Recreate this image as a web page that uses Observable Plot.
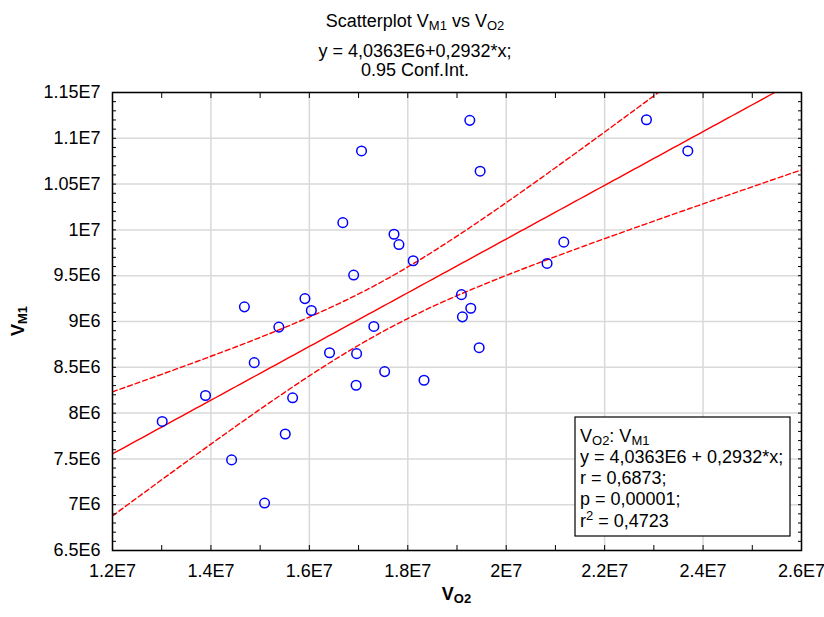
<!DOCTYPE html>
<html><head><meta charset="utf-8">
<script src="https://cdn.jsdelivr.net/npm/d3@7"></script>
<script src="https://cdn.jsdelivr.net/npm/@observablehq/plot@0.6"></script>
<style>
body{margin:0;background:#fff;}
svg{font-family:"Liberation Sans",Arial,sans-serif;}
</style>
</head><body><div id="chart"></div>
<script>
const vO2 = [13.01e6,13.89e6,14.42e6,14.68e6,14.88e6,15.09e6,15.38e6,15.51e6,15.66e6,15.91e6,
             16.04e6,16.41e6,16.68e6,16.90e6,16.96e6,16.95e6,17.06e6,17.31e6,17.53e6,17.72e6,
             17.82e6,18.11e6,18.33e6,19.09e6,19.11e6,19.28e6,19.26e6,19.45e6,19.47e6,20.83e6,
             21.17e6,22.85e6,23.69e6];
const vM1 = [7.909e6,8.192e6,7.489e6,9.160e6,8.551e6,7.018e6,8.939e6,7.772e6,8.167e6,9.250e6,
             9.120e6,8.659e6,10.079e6,9.507e6,8.649e6,8.304e6,10.862e6,8.946e6,8.453e6,9.953e6,
             9.840e6,9.663e6,8.359e6,9.293e6,9.051e6,9.145e6,11.196e6,8.714e6,10.641e6,9.634e6,
             9.866e6,11.203e6,10.862e6];
// Regression coefficients (from the chart's title)
const coef = [4.0363e6, 0.2932]; // intercept, slope
const tCrit = [2.0395];          // t(0.975, n-2=31)
// Axis ticks and labels
const xTicks = [12e6,14e6,16e6,18e6,20e6,22e6,24e6,26e6];
const xTickLabels = ["1.2E7","1.4E7","1.6E7","1.8E7","2E7","2.2E7","2.4E7","2.6E7"];
const yTicks = [6.5e6,7e6,7.5e6,8e6,8.5e6,9e6,9.5e6,10e6,10.5e6,11e6,11.5e6];
const yTickLabels = ["6.5E6","7E6","7.5E6","8E6","8.5E6","9E6","9.5E6","1E7","1.05E7","1.1E7","1.15E7"];
const xMinor = d3.range(12e6, 26e6 + 1, 1e6);
const yMinor = d3.range(6.5e6, 11.5e6 + 1, 1e5);

const points = vO2.map((x, i) => ({x, y: vM1[i]}));
const [a, b] = coef;
const n = points.length;
const xbar = d3.mean(vO2);
const sxx = d3.sum(vO2, x => (x - xbar) ** 2);
const sse = d3.sum(points, p => (p.y - (a + b * p.x)) ** 2);
const s = Math.sqrt(sse / (n - 2));
const xs = d3.range(0, 141).map(i => xTicks[0] + (xTicks[xTicks.length-1] - xTicks[0]) * i / 140);
const fit = xs.map(x => {
  const yh = a + b * x;
  const h = tCrit[0] * s * Math.sqrt(1 / n + (x - xbar) ** 2 / sxx);
  return {x, y: yh, lo: yh - h, hi: yh + h};
});

const gridStyle = {stroke: "#d9d9d9", strokeOpacity: 1, strokeWidth: 1.5};
const fs = 18;
const chart = Plot.plot({
  width: 824, height: 617,
  marginLeft: 112, marginRight: 23, marginTop: 92, marginBottom: 67,
  style: {fontFamily: '"Liberation Sans", Arial, sans-serif', background: "#fff", color: "#000"},
  x: {domain: [xTicks[0], xTicks[xTicks.length-1]], label: null},
  y: {domain: [yTicks[0], yTicks[yTicks.length-1]], label: null},
  marks: [
    Plot.gridX(xTicks, gridStyle),
    Plot.gridY(yTicks, gridStyle),
    Plot.line(fit, {x: "x", y: "hi", stroke: "#ff0000", strokeWidth: 1.4, strokeDasharray: "5,3", clip: true}),
    Plot.line(fit, {x: "x", y: "lo", stroke: "#ff0000", strokeWidth: 1.4, strokeDasharray: "5,3", clip: true}),
    Plot.line(fit, {x: "x", y: "y", stroke: "#ff0000", strokeWidth: 1.4, clip: true}),
    Plot.dot(points, {x: "x", y: "y", r: 4.8, stroke: "#0000ff", strokeWidth: 1.5, fill: "none"}),
    Plot.axisX(xTicks, {anchor: "bottom", tickSize: 0, tickPadding: 14, fontSize: fs,
      tickFormat: d => xTickLabels[xTicks.indexOf(d)], label: null}),
    Plot.axisY(yTicks, {anchor: "left", tickSize: 0, tickPadding: 12, fontSize: fs,
      tickFormat: d => yTickLabels[yTicks.indexOf(d)], label: null}),
    Plot.axisX(xMinor, {anchor: "bottom", tickSize: 5, dy: -5, tickFormat: () => "", label: null}),
    Plot.axisX(xMinor, {anchor: "top", tickSize: 5, dy: 5, tickFormat: () => "", label: null}),
    Plot.axisY(yMinor, {anchor: "left", tickSize: 4, dx: 4, tickFormat: () => "", label: null}),
    Plot.axisY(yMinor, {anchor: "right", tickSize: 4, dx: -4, tickFormat: () => "", label: null}),
    Plot.frame({stroke: "#000", strokeWidth: 1.5})
  ]
});
document.getElementById("chart").appendChild(chart);

// Text annotations with sub/superscripts
const svg = d3.select(chart);
const W = 824, H = 617, fL = 112, fR = W - 23, fT = 92, fB = H - 67;
function rich(sel, parts) {
  let shift = 0;
  for (const [t, k] of parts) {
    const target = k === "sub" ? 3 : k === "sup" ? -7 : 0;
    const ts = sel.append("tspan").attr("dy", target - shift).text(t);
    if (k !== "n") ts.attr("font-size", 13);
    shift = target;
  }
  return sel;
}
const cx = 415;
rich(svg.append("text").attr("x", cx).attr("y", 27).attr("text-anchor", "middle").attr("font-size", fs),
  [["Scatterplot V","n"],["M1","sub"],[" vs V","n"],["O2","sub"]]);
svg.append("text").attr("x", cx).attr("y", 56.5).attr("text-anchor", "middle").attr("font-size", fs)
  .text("y = 4,0363E6+0,2932*x;");
svg.append("text").attr("x", cx).attr("y", 76).attr("text-anchor", "middle").attr("font-size", fs)
  .text("0.95 Conf.Int.");
// Axis titles
rich(svg.append("text").attr("x", (fL + fR) / 2).attr("y", 600).attr("text-anchor", "middle")
  .attr("font-size", fs).attr("font-weight", "bold"), [["V","n"],["O2","sub"]]);
rich(svg.append("text").attr("transform", `translate(24,${(fT + fB) / 2}) rotate(-90)`)
  .attr("text-anchor", "middle").attr("font-size", fs).attr("font-weight", "bold"), [["V","n"],["M1","sub"]]);
// Stats box
const bx = fR - 226, by = fB - 133, bw = 215, bh = 119;
svg.append("rect").attr("x", bx).attr("y", by).attr("width", bw).attr("height", bh)
  .attr("fill", "#fff").attr("stroke", "#000").attr("stroke-width", 1.2);
const lines = [
  [["V","n"],["O2","sub"],[": V","n"],["M1","sub"]],
  [["y = 4,0363E6 + 0,2932*x;","n"]],
  [["r = 0,6873;","n"]],
  [["p = 0,00001;","n"]],
  [["r","n"],["2","sup"],[" = 0,4723","n"]]
];
const baselines = [442, 463, 484, 505, 527];
lines.forEach((parts, i) => {
  rich(svg.append("text").attr("x", bx + 5).attr("y", by + (baselines[i] - 417))
    .attr("text-anchor", "start").attr("font-size", fs), parts);
});
</script>
</body></html>
